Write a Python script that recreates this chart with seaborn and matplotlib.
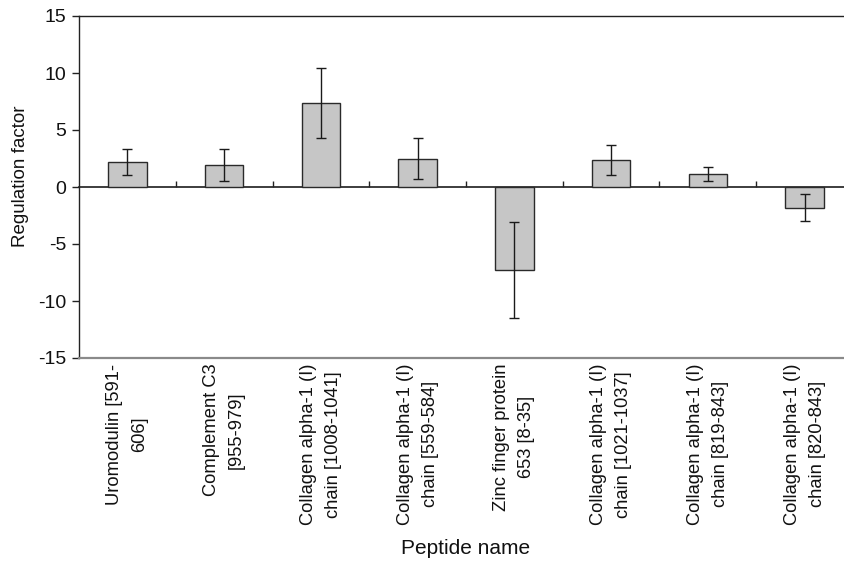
import matplotlib
matplotlib.use("Agg")
import matplotlib.pyplot as plt
import seaborn as sns
import pandas as pd
import numpy as np

# Peptides and their regulation factors (mean ± error)
peptides = [
    "Uromodulin [591-\n606]",
    "Complement C3\n[955-979]",
    "Collagen alpha-1 (I)\nchain [1008-1041]",
    "Collagen alpha-1 (I)\nchain [559-584]",
    "Zinc finger protein\n653 [8-35]",
    "Collagen alpha-1 (I)\nchain [1021-1037]",
    "Collagen alpha-1 (I)\nchain [819-843]",
    "Collagen alpha-1 (I)\nchain [820-843]",
]
regulation = [2.17, 1.90, 7.33, 2.48, -7.30, 2.36, 1.13, -1.80]
errors = [1.12, 1.40, 3.07, 1.78, 4.22, 1.35, 0.62, 1.18]
y_ticks = [-15, -10, -5, 0, 5, 10, 15]

sns.set_theme(style="white")
plt.rcParams["font.family"] = ["Liberation Sans", "DejaVu Sans"]

df = pd.DataFrame({"Peptide name": peptides, "Regulation factor": regulation})

fig = plt.figure(figsize=(8.44, 5.63), dpi=100)
ax = fig.add_axes([79 / 844, 1 - 358 / 563, (853 - 79) / 844, (358 - 16) / 563])

sns.barplot(data=df, x="Peptide name", y="Regulation factor", ax=ax,
            color="#c6c6c6", edgecolor="#2a2a2a", linewidth=1.0,
            width=0.40, saturation=1, errorbar=None)

xpos = np.arange(len(peptides))
ax.errorbar(xpos, regulation, yerr=errors, fmt="none", ecolor="#1a1a1a",
            elinewidth=1.0, capsize=3.5, capthick=1.0, zorder=5)

ax.set_xlim(-0.5, len(peptides) - 0.5)
ax.set_ylim(y_ticks[0], y_ticks[-1])
ax.set_yticks(y_ticks)
ax.set_yticklabels([str(t) for t in y_ticks], fontsize=14, color="#111111")

ax.set_xticks(xpos)
ax.set_xticklabels(peptides, rotation=90, ha="center", va="top",
                   multialignment="center", fontsize=13.2,
                   linespacing=1.6, color="#111111")
ax.tick_params(axis="x", length=0, pad=4)
ax.tick_params(axis="y", direction="out", length=5, width=1.0,
               color="#222222", pad=4, left=True)

for side in ["left", "top", "right"]:
    ax.spines[side].set_color("#222222")
    ax.spines[side].set_linewidth(1.0)
ax.spines["bottom"].set_color("#8a8a8a")
ax.spines["bottom"].set_linewidth(1.6)

# zero baseline with category boundary ticks
lo, hi = ax.get_ylim()
zero_axis = ax.secondary_xaxis((0 - lo) / (hi - lo))
zero_axis.set_xticks(np.arange(len(peptides)) + 0.5)
zero_axis.set_xticklabels([])
zero_axis.tick_params(direction="out", length=4.5, width=1.0,
                      color="#222222")
zero_axis.spines["bottom"].set_color("#222222")
zero_axis.spines["bottom"].set_linewidth(1.0)

ax.set_xlabel("Peptide name", fontsize=15, color="#111111", labelpad=10)
ax.set_ylabel("Regulation factor", fontsize=13.5, color="#111111")
ax.yaxis.set_label_coords(-0.064, 0.53)

fig.savefig("out.png", dpi=100)
